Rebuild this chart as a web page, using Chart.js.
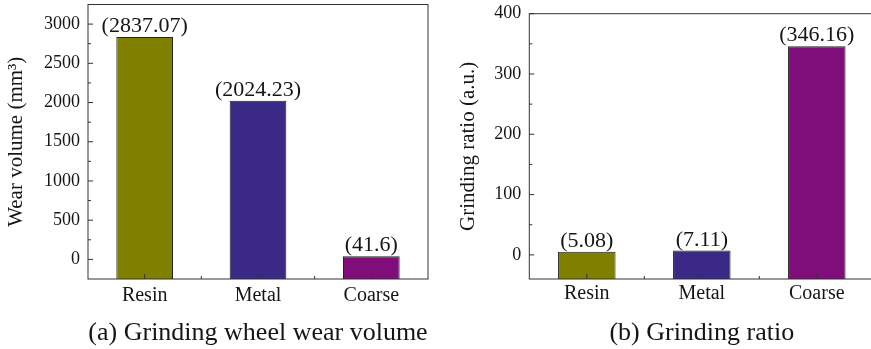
<!DOCTYPE html>
<html>
<head>
<meta charset="utf-8">
<script src="https://cdn.jsdelivr.net/npm/chart.js@4.4.0/dist/chart.umd.min.js"></script>
<style>
  html, body { margin: 0; padding: 0; background: #fff; overflow: hidden; }
  body { width: 871px; height: 349px; position: relative; }
  .panel { position: absolute; top: 0; width: 440px; height: 349px; }
  #panelA { left: 0; }
  #panelB { left: 440px; }
</style>
</head>
<body>
<div class="panel" id="panelA"><canvas id="chartA"></canvas></div>
<div class="panel" id="panelB"><canvas id="chartB"></canvas></div>
<script>
// Data
const categories = ['Resin', 'Metal', 'Coarse'];
const wearVolume = [2837.07, 2024.23, 41.6];
const grindingRatio = [5.08, 7.11, 346.16];
const wearTicks = [0, 500, 1000, 1500, 2000, 2500, 3000];
const ratioTicks = [0, 100, 200, 300, 400];
const barColors = ['#808000', '#3a2a85', '#800e7a'];

const textColor = '#151515';
const lineColor = '#333333';
Chart.defaults.font.family = "'Liberation Serif', 'Times New Roman', serif";
Chart.defaults.color = textColor;

// Box around the plot plus inward major / minor tick marks
const framePlugin = {
  id: 'frame',
  afterDatasetsDraw(chart, args, opts) {
    const ctx = chart.ctx;
    const a = chart.chartArea;
    const x = chart.scales.x;
    const y = chart.scales.y;
    ctx.save();
    ctx.strokeStyle = lineColor;
    ctx.lineWidth = 1;
    ctx.strokeRect(a.left, a.top, a.right - a.left, a.bottom - a.top);
    ctx.beginPath();
    // y major ticks
    y.ticks.forEach(t => {
      const py = y.getPixelForValue(t.value);
      ctx.moveTo(a.left, py);
      ctx.lineTo(a.left + 5, py);
    });
    // y minor ticks
    const step = opts.minorStep;
    for (let v = Math.ceil(y.min / step) * step; v < y.max; v += step) {
      if (v <= y.min || y.ticks.some(t => t.value === v)) continue;
      const py = y.getPixelForValue(v);
      ctx.moveTo(a.left, py);
      ctx.lineTo(a.left + 3, py);
    }
    // x major ticks at category centres, minor ticks between categories
    for (let i = 0; i < categories.length; i++) {
      const px = x.getPixelForValue(i);
      ctx.moveTo(px, a.bottom);
      ctx.lineTo(px, a.bottom - 5);
      if (i > 0) {
        const mx = (px + x.getPixelForValue(i - 1)) / 2;
        ctx.moveTo(mx, a.bottom);
        ctx.lineTo(mx, a.bottom - 3);
      }
    }
    ctx.stroke();
    ctx.restore();
  }
};

// "(value)" labels above each bar
const valueLabelPlugin = {
  id: 'valueLabels',
  afterDatasetsDraw(chart) {
    const ctx = chart.ctx;
    const ds = chart.data.datasets[0];
    const meta = chart.getDatasetMeta(0);
    ctx.save();
    ctx.font = "22px 'Liberation Serif', 'Times New Roman', serif";
    ctx.fillStyle = textColor;
    ctx.textAlign = 'center';
    ctx.textBaseline = 'alphabetic';
    meta.data.forEach((bar, i) => {
      ctx.fillText('(' + ds.data[i] + ')', bar.x, bar.y - 5);
    });
    ctx.restore();
  }
};

function makeChart(id, values, ticks, yMin, yMax, minorStep, yTitle, caption, lay) {
  return new Chart(document.getElementById(id), {
    type: 'bar',
    data: {
      labels: categories,
      datasets: [{
        data: values,
        base: yMin,
        backgroundColor: barColors,
        borderColor: '#222222',
        borderWidth: 1,
        categoryPercentage: 0.5,
        barPercentage: 1
      }]
    },
    options: {
      responsive: true,
      maintainAspectRatio: false,
      animation: false,
      layout: { padding: { left: 0, right: lay.right, top: lay.top, bottom: 0 } },
      plugins: {
        legend: { display: false },
        tooltip: { enabled: false },
        title: {
          display: true,
          position: 'bottom',
          fullSize: false,
          text: caption,
          color: textColor,
          font: { size: 26, weight: 'normal' },
          padding: { top: lay.capTop, bottom: 0.4 }
        },
        frame: { minorStep: minorStep }
      },
      scales: {
        x: {
          grid: { display: false, drawTicks: false },
          border: { display: false },
          ticks: { font: { size: 20 }, color: textColor, padding: lay.xPad },
          afterFit: s => {
            s.height = lay.xHeight;
            s.paddingLeft = 0;
            s.paddingRight = 0;
          }
        },
        y: {
          min: yMin,
          max: yMax,
          afterBuildTicks: s => { s.ticks = ticks.map(v => ({ value: v })); },
          grid: { display: false, drawTicks: false },
          border: { display: false },
          ticks: { font: { size: 18 }, color: textColor, padding: 8, callback: v => String(v) },
          title: {
            display: true,
            text: yTitle,
            color: textColor,
            font: { size: 21 },
            padding: { top: lay.yTitlePad, bottom: 0 }
          },
          afterFit: s => {
            s.width = lay.yWidth;
            s.paddingTop = 0;
            s.paddingBottom = 0;
          }
        }
      }
    },
    plugins: [framePlugin, valueLabelPlugin]
  });
}

makeChart('chartA', wearVolume, wearTicks, -250, 3250, 250,
  'Wear volume (mm\u00B3)', '(a) Grinding wheel wear volume',
  { right: 12, top: 4.5, xPad: 5, xHeight: 28, capTop: 10.4, yTitlePad: 3.4, yWidth: 88 });

makeChart('chartB', grindingRatio, ratioTicks, -40, 400, 50,
  'Grinding ratio (a.u.)', '(b) Grinding ratio',
  { right: 5.7, top: 13.7, xPad: 3, xHeight: 31, capTop: 7.4, yTitlePad: 15.7, yWidth: 89.3 });
</script>
</body>
</html>
